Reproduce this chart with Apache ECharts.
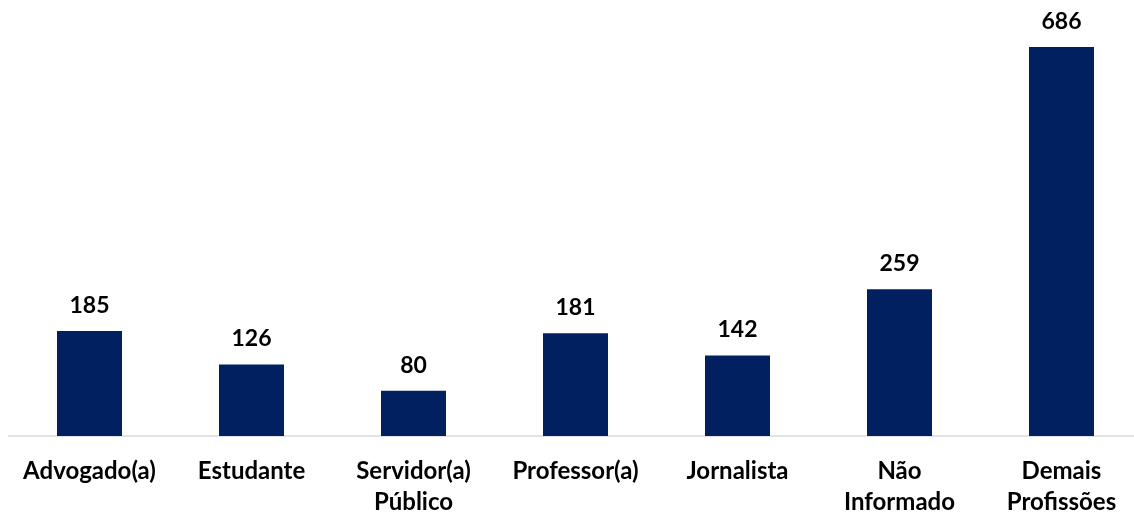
<!DOCTYPE html>
<html><head><meta charset="utf-8">
<script src="https://cdn.jsdelivr.net/npm/echarts@6/dist/echarts.min.js"></script>
<style>html,body{margin:0;padding:0;background:#fff}#c{width:1134px;height:516px}</style>
</head><body><div id="c"></div>
<script>
const categories = ['Advogado(a)', 'Estudante', 'Servidor(a)\nPúblico', 'Professor(a)', 'Jornalista', 'Não\nInformado', 'Demais\nProfissões'];
const values = [185, 126, 80, 181, 142, 259, 686];

const chart = echarts.init(document.getElementById('c'), null, {renderer: 'canvas'});
chart.setOption({
  animation: false,
  grid: {left: 8.5, right: -8.5, top: 47, bottom: 80, containLabel: false, outerBoundsMode: 'none'},
  xAxis: {
    type: 'category', data: categories,
    axisLine: {show: true, lineStyle: {color: '#d9d9d9', width: 1.5}},
    axisTick: {show: false},
    axisLabel: {interval: 0, margin: 20, color: '#000', fontFamily: 'Lato', fontWeight: 'bold', fontSize: 24, lineHeight: 31}
  },
  yAxis: {type: 'value', min: 0, max: 686, show: false, splitLine: {show: false}},
  series: [{
    type: 'bar', data: values, barWidth: 65,
    itemStyle: {color: '#002060'},
    label: {show: true, position: 'top', distance: 14, color: '#000', fontFamily: 'Lato', fontWeight: 'bold', fontSize: 23}
  }]
});
</script></body></html>
